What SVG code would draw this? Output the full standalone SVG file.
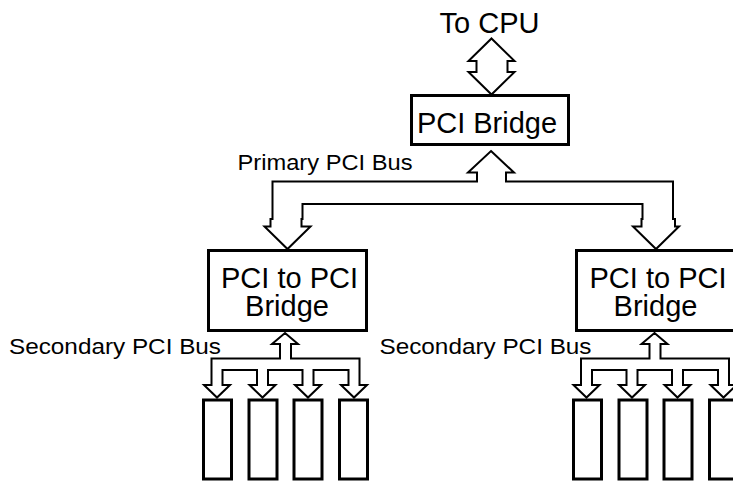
<svg xmlns="http://www.w3.org/2000/svg" width="733" height="482" viewBox="0 0 733 482">
  <style>
    .box { fill: #ffffff; stroke: #000000; stroke-width: 3; }
    .slot { fill: #ffffff; stroke: #000000; stroke-width: 3; }
    .bus { fill: #ffffff; stroke: #000000; stroke-width: 2; stroke-linejoin: miter; }
    .big { font-family: "Liberation Sans", Arial, sans-serif; font-size: 29px; fill: #000000; text-anchor: middle; }
    .lbl { font-family: "Liberation Sans", Arial, sans-serif; font-size: 22px; fill: #000000; }
  </style>
  <defs>
    <!-- secondary bus: one up-head from the bridge fanning out to four slot heads -->
    <path id="secBus" class="bus" d="M285,333 L298,344 L291,344 L291,358.5 L359.5,358.5 L359.5,385 L367,385 L354,397.5 L341,385 L348.5,385 L348.5,370 L313.5,370 L313.5,385 L321,385 L308,397.5 L295,385 L302.5,385 L302.5,370 L268,370 L268,385 L275.5,385 L262.5,397.5 L249.5,385 L257,385 L257,370 L222.5,370 L222.5,385 L230,385 L217,397.5 L204,385 L211.5,385 L211.5,358.5 L280,358.5 L280,344 L272,344 Z"/>
    <g id="slots">
      <rect class="slot" x="203.5" y="400" width="28" height="79"/>
      <rect class="slot" x="249" y="400" width="28" height="79"/>
      <rect class="slot" x="294" y="400" width="28" height="79"/>
      <rect class="slot" x="339.5" y="400" width="28" height="79"/>
    </g>
  </defs>

  <text class="big" x="489.5" y="33" font-size="28">To CPU</text>

  <g id="connectors">
    <!-- CPU link -->
    <path class="bus" d="M491.5,38.5 L514.5,61 L507.5,61 L507.5,72 L514.5,72 L491.5,94.5 L468.5,72 L476.5,72 L476.5,61 L468.5,61 Z"/>
    <!-- primary PCI bus -->
    <path class="bus" d="M491,151 L514,172.5 L506,172.5 L506,181.5 L673,181.5 L673,219 L675,219 L675,226.5 L679,226.5 L656,249 L633,226.5 L641.5,226.5 L641.5,219 L642.5,219 L642.5,204 L302.5,204 L302.5,219 L301.5,219 L301.5,226.5 L310.5,226.5 L287.5,249 L264.5,226.5 L270.5,226.5 L270.5,219 L272.5,219 L272.5,181.5 L477,181.5 L477,172.5 L468,172.5 Z"/>
    <!-- secondary PCI buses -->
    <use href="#secBus"/>
    <use href="#secBus" transform="translate(369.5,0)"/>
  </g>

  <g id="pci-bridge">
    <rect class="box" x="411.5" y="95.5" width="157" height="49"/>
    <text class="big" x="487" y="133">PCI Bridge</text>
  </g>

  <text class="lbl" x="237.5" y="170" textLength="175" lengthAdjust="spacingAndGlyphs">Primary PCI Bus</text>

  <g id="p2p-bridge-left">
    <rect class="box" x="208.5" y="250.5" width="158" height="80"/>
    <text class="big" x="289.5" y="288">PCI to PCI</text>
    <text class="big" x="287" y="316">Bridge</text>
  </g>

  <g id="p2p-bridge-right">
    <rect class="box" x="576.5" y="250.5" width="158" height="80"/>
    <text class="big" x="658" y="288">PCI to PCI</text>
    <text class="big" x="655.5" y="316">Bridge</text>
  </g>

  <text class="lbl" x="9" y="354" textLength="212" lengthAdjust="spacingAndGlyphs">Secondary PCI Bus</text>
  <text class="lbl" x="379.5" y="354" textLength="212" lengthAdjust="spacingAndGlyphs">Secondary PCI Bus</text>

  <g id="slots-left">
    <use href="#slots"/>
  </g>
  <g id="slots-right">
    <use href="#slots" transform="translate(370,0)"/>
  </g>
</svg>
